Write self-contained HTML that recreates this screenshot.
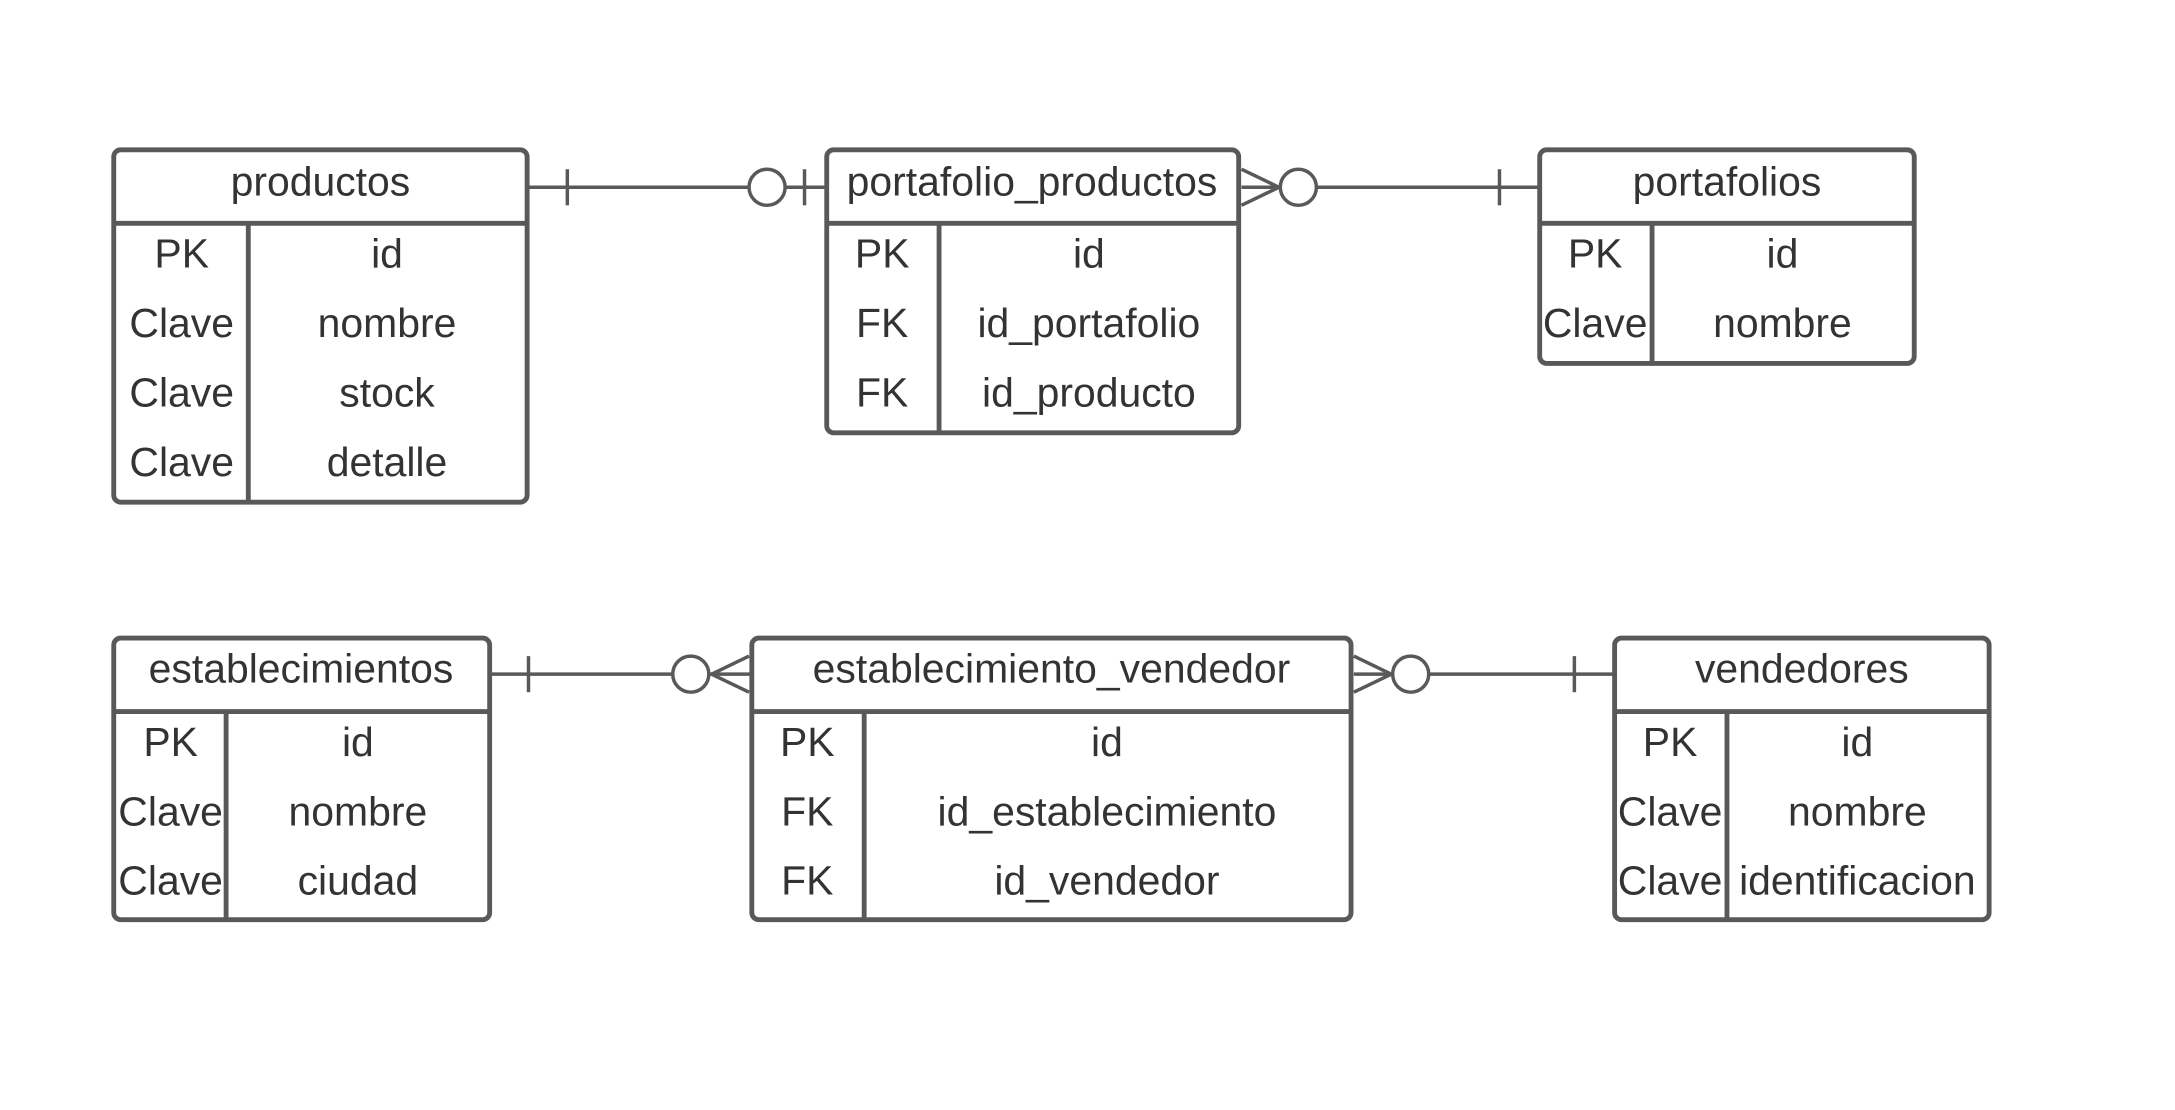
<!DOCTYPE html>
<html><head><meta charset="utf-8"><style>html,body{margin:0;padding:0;background:#fff;}svg{display:block}</style></head>
<body>
<svg width="2175" height="1110" viewBox="0 0 1568 800.2" preserveAspectRatio="none" xmlns="http://www.w3.org/2000/svg">
<g fill="none" stroke="#595959" stroke-width="3.5">
<rect x="82" y="108" width="298" height="254" rx="5"/>
<line x1="82" y1="161" x2="380" y2="161"/><line x1="179" y1="161" x2="179" y2="362"/>
<rect x="596" y="108" width="297" height="204" rx="5"/>
<line x1="596" y1="161" x2="893" y2="161"/><line x1="677" y1="161" x2="677" y2="312"/>
<rect x="1110" y="108" width="270" height="154" rx="5"/>
<line x1="1110" y1="161" x2="1380" y2="161"/><line x1="1191" y1="161" x2="1191" y2="262"/>
<rect x="82" y="460" width="271" height="203" rx="5"/>
<line x1="82" y1="513" x2="353" y2="513"/><line x1="163" y1="513" x2="163" y2="663"/>
<rect x="542" y="460" width="432" height="203" rx="5"/>
<line x1="542" y1="513" x2="974" y2="513"/><line x1="623" y1="513" x2="623" y2="663"/>
<rect x="1164" y="460" width="270" height="203" rx="5"/>
<line x1="1164" y1="513" x2="1434" y2="513"/><line x1="1245" y1="513" x2="1245" y2="663"/>
</g>
<g fill="none" stroke="#595959" stroke-width="2.5">
<line x1="381" y1="135" x2="540" y2="135"/><line x1="409" y1="122" x2="409" y2="148"/>
<circle cx="553" cy="135" r="13"/><line x1="566" y1="135" x2="596" y2="135"/><line x1="580" y1="122" x2="580" y2="148"/>
<line x1="895" y1="135" x2="923" y2="135"/><line x1="895" y1="122" x2="922" y2="135"/><line x1="895" y1="148" x2="922" y2="135"/>
<circle cx="936" cy="135" r="13"/><line x1="949" y1="135" x2="1110" y2="135"/><line x1="1081" y1="122" x2="1081" y2="148"/>
<line x1="354" y1="486" x2="485" y2="486"/><line x1="381" y1="473" x2="381" y2="499"/>
<circle cx="498" cy="486" r="13"/><line x1="511" y1="486" x2="541" y2="486"/><line x1="513" y1="486" x2="540" y2="473"/><line x1="513" y1="486" x2="540" y2="499"/>
<line x1="976" y1="486" x2="1004" y2="486"/><line x1="976" y1="473" x2="1003" y2="486"/><line x1="976" y1="499" x2="1003" y2="486"/>
<circle cx="1017" cy="486" r="13"/><line x1="1030" y1="486" x2="1164" y2="486"/><line x1="1135" y1="473" x2="1135" y2="499"/>
</g>
<g font-family="Liberation Sans, sans-serif" font-size="29.5" fill="#333" text-anchor="middle">
<text x="231" y="141">productos</text>
<text x="131" y="193">PK</text><text x="279" y="193">id</text>
<text x="131" y="243">Clave</text><text x="279" y="243">nombre</text>
<text x="131" y="293">Clave</text><text x="279" y="293">stock</text>
<text x="131" y="343">Clave</text><text x="279" y="343">detalle</text>
<text x="744" y="141">portafolio_productos</text>
<text x="636" y="193">PK</text><text x="785" y="193">id</text>
<text x="636" y="243">FK</text><text x="785" y="243">id_portafolio</text>
<text x="636" y="293">FK</text><text x="785" y="293">id_producto</text>
<text x="1245" y="141">portafolios</text>
<text x="1150" y="193">PK</text><text x="1285" y="193">id</text>
<text x="1150" y="243">Clave</text><text x="1285" y="243">nombre</text>
<text x="217" y="492">establecimientos</text>
<text x="123" y="545">PK</text><text x="258" y="545">id</text>
<text x="123" y="595">Clave</text><text x="258" y="595">nombre</text>
<text x="123" y="645">Clave</text><text x="258" y="645">ciudad</text>
<text x="758" y="492">establecimiento_vendedor</text>
<text x="582" y="545">PK</text><text x="798" y="545">id</text>
<text x="582" y="595">FK</text><text x="798" y="595">id_establecimiento</text>
<text x="582" y="645">FK</text><text x="798" y="645">id_vendedor</text>
<text x="1299" y="492">vendedores</text>
<text x="1204" y="545">PK</text><text x="1339" y="545">id</text>
<text x="1204" y="595">Clave</text><text x="1339" y="595">nombre</text>
<text x="1204" y="645">Clave</text><text x="1339" y="645">identificacion</text>
</g>
</svg>
</body></html>
